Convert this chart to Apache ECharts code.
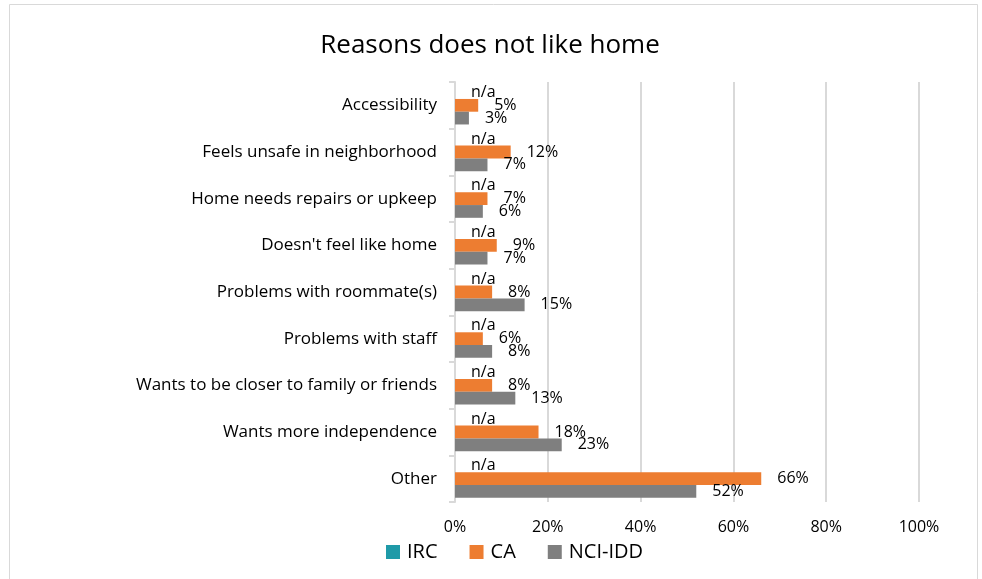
<!DOCTYPE html>
<html><head><meta charset="utf-8">
<script src="https://cdn.jsdelivr.net/npm/echarts@6/dist/echarts.min.js"></script>
<style>html,body{margin:0;padding:0;background:#fff}#c{width:982px;height:579px}</style>
</head><body><div id="c"></div>
<script>
const categories = ["Accessibility","Feels unsafe in neighborhood","Home needs repairs or upkeep","Doesn't feel like home","Problems with roommate(s)","Problems with staff","Wants to be closer to family or friends","Wants more independence","Other"];
const irc = [0,0,0,0,0,0,0,0,0];
const ca = [5,12,7,9,8,6,8,18,66];
const nci = [3,7,6,7,15,8,13,23,52];
const xTicks = [0,20,40,60,80,100];
const FONT = 'Open Sans';
const chart = echarts.init(document.getElementById('c'), null, {renderer:'canvas'});
const lbl = (fmt) => ({show:true, position:'right', distance:16, color:'#000', fontFamily:FONT, fontSize:16, formatter:fmt});
chart.setOption({
  backgroundColor:'#fff',
  animation:false,
  title:{text:'Reasons does not like home', left:485, top:28, textAlign:'center',
    textStyle:{fontFamily:FONT, fontSize:26, fontWeight:'normal', color:'#000'}},
  graphic:[{type:'rect', shape:{x:9.5,y:4.5,width:968,height:600}, style:{fill:'none', stroke:'#d9d9d9', lineWidth:1}, silent:true}],
  legend:{bottom:12, left:381, itemWidth:14, itemHeight:14, itemGap:32, itemStyle:{borderWidth:0}, icon:'rect',
    textStyle:{fontFamily:FONT, fontSize:20, color:'#000', padding:[0,0,0,2]}, data:['IRC','CA','NCI-IDD']},
  grid:{left:455, right:63, top:82, bottom:77, containLabel:false},
  xAxis:{type:'value', min:0, max:100, interval:20,
    axisLabel:{formatter:v=>v+'%', fontFamily:FONT, fontSize:16, color:'#000', margin:17},
    splitLine:{lineStyle:{color:'#d9d9d9', width:2}}, axisLine:{show:false}, axisTick:{show:false}},
  yAxis:{type:'category', data:categories, inverse:true,
    axisLine:{lineStyle:{color:'#d9d9d9', width:2}}, axisTick:{show:true, length:6, lineStyle:{color:'#d9d9d9', width:2}},
    axisLabel:{fontFamily:FONT, fontSize:17, color:'#000', margin:18}},
  series:[
    {name:'IRC', type:'bar', data:irc, itemStyle:{color:'#1f9aa8'}, barGap:'0%', barCategoryGap:'18%', label:lbl(()=> 'n/a')},
    {name:'CA', type:'bar', data:ca, itemStyle:{color:'#ed7d31'}, barGap:'0%', barCategoryGap:'18%', label:lbl(p=>p.value+'%')},
    {name:'NCI-IDD', type:'bar', data:nci, itemStyle:{color:'#7f7f7f'}, barGap:'0%', barCategoryGap:'18%', label:lbl(p=>p.value+'%')}
  ]
});
</script></body></html>
